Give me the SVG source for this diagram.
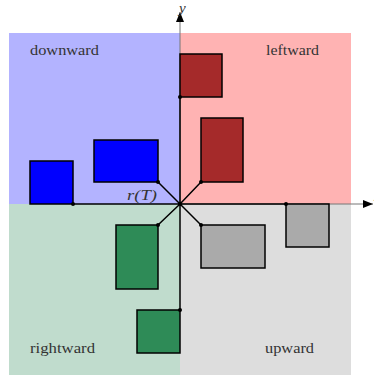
<svg xmlns="http://www.w3.org/2000/svg" width="374" height="376" viewBox="0 0 374 376">
<defs>
<style>
.lbl{font-family:"Liberation Serif","DejaVu Serif",serif;font-size:14px;fill:#333}
.ital{font-family:"Liberation Serif","DejaVu Serif",serif;font-style:italic;font-size:15px;fill:#333}
.r{stroke:#000;stroke-width:1.5}
.ln{stroke:#000;stroke-width:1.5;fill:none}
.ax{stroke:#777;stroke-width:1;fill:none}
</style>
<marker id="ah" viewBox="0 0 10 8" refX="10" refY="4" markerWidth="10" markerHeight="8" markerUnits="userSpaceOnUse" orient="auto">
<path d="M0,0 L10,4 L0,8 Z" fill="#000"/>
</marker>
</defs>
<g id="quadrants">
<rect x="9" y="33" width="171" height="171" fill="#b3b3ff"/>
<rect x="180" y="33" width="171" height="171" fill="#ffb3b3"/>
<rect x="9" y="204" width="171" height="171" fill="#c0dccd"/>
<rect x="180" y="204" width="171" height="171" fill="#dddddd"/>
</g>
<g id="axes">
<line class="ax" x1="180" y1="204" x2="180" y2="12" marker-end="url(#ah)"/>
<line class="ax" x1="180" y1="204" x2="373" y2="204" marker-end="url(#ah)"/>
<text class="ital" x="179" y="13">y</text>
<text class="ital" x="374" y="201">x</text>
</g>
<g id="labels">
<text class="lbl" x="30" y="55" textLength="69" lengthAdjust="spacingAndGlyphs">downward</text>
<text class="lbl" x="266" y="55" textLength="53" lengthAdjust="spacingAndGlyphs">leftward</text>
<text class="lbl" x="30" y="353" textLength="65" lengthAdjust="spacingAndGlyphs">rightward</text>
<text class="lbl" x="265" y="353" textLength="49" lengthAdjust="spacingAndGlyphs">upward</text>
<text class="ital" x="127" y="200" textLength="30" lengthAdjust="spacingAndGlyphs">r(T)</text>
</g>
<g id="rect-brown-1"><rect class="r" x="180" y="54" width="42" height="43" fill="#a52a2a"/></g>
<g id="rect-brown-2"><rect class="r" x="201" y="118" width="42" height="64" fill="#a52a2a"/></g>
<g id="rect-blue-1"><rect class="r" x="30" y="161" width="43" height="43" fill="#0000ff"/></g>
<g id="rect-blue-2"><rect class="r" x="94" y="140" width="64" height="42" fill="#0000ff"/></g>
<g id="rect-green-1"><rect class="r" x="116" y="225" width="42" height="64" fill="#2e8b57"/></g>
<g id="rect-green-2"><rect class="r" x="137" y="310" width="43" height="43" fill="#2e8b57"/></g>
<g id="rect-gray-1"><rect class="r" x="201" y="225" width="64" height="43" fill="#aaaaaa"/></g>
<g id="rect-gray-2"><rect class="r" x="286" y="204" width="43" height="43" fill="#aaaaaa"/></g>
<g id="connectors">
<path class="ln" d="M180,204 L180,97 M180,204 L201,182 M180,204 L158,182 M180,204 L73,204 M180,204 L158,225 M180,204 L180,310 M180,204 L201,225 M180,204 L286,204"/>
<g fill="#000">
<circle cx="180" cy="97" r="2"/>
<circle cx="201" cy="182" r="2"/>
<circle cx="158" cy="182" r="2"/>
<circle cx="73" cy="204" r="2"/>
<circle cx="158" cy="225" r="2"/>
<circle cx="180" cy="310" r="2"/>
<circle cx="201" cy="225" r="2"/>
<circle cx="286" cy="204" r="2"/>
</g>
</g>
</svg>
